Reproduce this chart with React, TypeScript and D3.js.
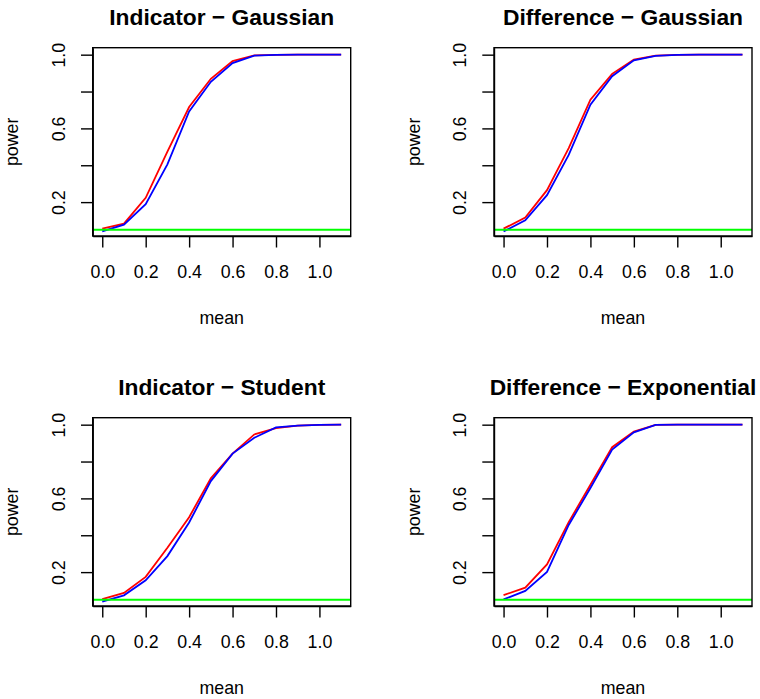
import React, {useRef, useEffect} from 'react';
import {select, scaleLinear, line, axisBottom, axisLeft, format, extent} from 'd3';

// shift values (x axis), shared by all four panels
const means = [0, 0.1, 0.2, 0.3, 0.4, 0.5, 0.6, 0.7, 0.8, 0.9, 1.0, 1.1];

const titles = [
    'Indicator − Gaussian',
    'Difference − Gaussian',
    'Indicator − Student',
    'Difference − Exponential',
];

// red curves
const redIndicatorGaussian = [0.056, 0.083, 0.223, 0.474, 0.716, 0.869, 0.965, 0.996, 0.999, 1.0, 1.0, 1.0];
const redDifferenceGaussian = [0.056, 0.116, 0.265, 0.493, 0.756, 0.896, 0.973, 0.995, 0.999, 1.0, 1.0, 1.0];
const redIndicatorStudent = [0.054, 0.087, 0.174, 0.332, 0.498, 0.709, 0.843, 0.947, 0.981, 0.995, 0.999, 1.0];
const redDifferenceExponential = [0.075, 0.116, 0.242, 0.471, 0.674, 0.878, 0.962, 0.999, 1.0, 1.0, 1.0, 1.0];

// blue curves
const blueIndicatorGaussian = [0.041, 0.078, 0.189, 0.405, 0.692, 0.853, 0.954, 0.995, 0.999, 1.0, 1.0, 1.0];
const blueDifferenceGaussian = [0.041, 0.101, 0.238, 0.456, 0.729, 0.883, 0.969, 0.994, 0.999, 1.0, 1.0, 1.0];
const blueIndicatorStudent = [0.040, 0.074, 0.156, 0.287, 0.469, 0.694, 0.843, 0.929, 0.985, 0.995, 0.999, 1.0];
const blueDifferenceExponential = [0.052, 0.098, 0.201, 0.456, 0.656, 0.865, 0.958, 0.999, 1.0, 1.0, 1.0, 1.0];

const redSeries = [redIndicatorGaussian, redDifferenceGaussian, redIndicatorStudent, redDifferenceExponential];
const blueSeries = [blueIndicatorGaussian, blueDifferenceGaussian, blueIndicatorStudent, blueDifferenceExponential];

const alphaLevel = 0.05; // green reference line

const xTicks = [0, 0.2, 0.4, 0.6, 0.8, 1.0];
const yTicks = [0.2, 0.4, 0.6, 0.8, 1.0];
const yLabelled = [0.2, 0.6, 1.0]; // R drops 0.4 and 0.8 (overlap)

const W = 760, H = 699;
const colX = [0, 401.3];
const rowY = [0, 370];
const box = {left: 92.7, right: 350.7, top: 47.7, bottom: 236};
const FONT = '"Liberation Sans", Arial, Helvetica, sans-serif';

// R style axis range: data range stretched by 4% each side
const pad4 = ([lo, hi]) => {
    const d = (hi - lo) * 0.04;
    return [lo - d, hi + d];
};

const App = () => {
    const svgRef = useRef();

    useEffect(() => {
        const svg = select(svgRef.current);
        svg.selectAll('*').remove();

        const xScale = scaleLinear()
            .domain(pad4(extent(means)))
            .range([box.left, box.right]);

        // ylim from the red (first plotted) series
        const yScale = scaleLinear()
            .domain(pad4(extent(redSeries.flat())))
            .range([box.bottom, box.top]);

        titles.forEach((title, i) => {
            const g = svg.append('g')
                .attr('transform', `translate(${colX[i % 2]},${rowY[Math.floor(i / 2)]})`)
                .style('font-family', FONT);

            const myLine = line()
                .x((v, k) => xScale(means[k]))
                .y(yScale);

            g.append('path')
                .datum(redSeries[i])
                .attr('d', myLine)
                .attr('fill', 'none')
                .attr('stroke', '#ff0000')
                .attr('stroke-width', 1.8);

            g.append('path')
                .datum(blueSeries[i])
                .attr('d', myLine)
                .attr('fill', 'none')
                .attr('stroke', '#0000ff')
                .attr('stroke-width', 1.8);

            g.append('line')
                .attr('x1', box.left).attr('x2', box.right)
                .attr('y1', yScale(alphaLevel)).attr('y2', yScale(alphaLevel))
                .attr('stroke', '#00ff00')
                .attr('stroke-width', 1.8);

            // x axis
            const xAxis = axisBottom(xScale)
                .tickValues(xTicks)
                .tickSize(11.5)
                .tickSizeOuter(0)
                .tickFormat(format('.1f'));
            const gx = g.append('g')
                .attr('transform', `translate(0,${box.bottom})`)
                .call(xAxis);
            gx.selectAll('text')
                .attr('y', 42.3).attr('dy', null)
                .attr('fill', '#000')
                .style('font-size', '17.8px')
                .style('font-family', FONT);

            // y axis, labels turned like R's las=0
            const yAxis = axisLeft(yScale)
                .tickValues(yTicks)
                .tickSize(11.7)
                .tickSizeOuter(0)
                .tickFormat(v => (yLabelled.includes(v) ? format('.1f')(v) : ''));
            const gy = g.append('g')
                .attr('transform', `translate(${box.left},0)`)
                .call(yAxis);
            gy.selectAll('text')
                .attr('x', null).attr('dy', null)
                .attr('transform', 'translate(-27.7,0) rotate(-90)')
                .attr('text-anchor', 'middle')
                .attr('fill', '#000')
                .style('font-size', '17.8px')
                .style('font-family', FONT);

            [gx, gy].forEach(a => {
                a.selectAll('line').attr('stroke', '#000').attr('stroke-width', 1.4);
                a.select('.domain').attr('stroke', '#000').attr('stroke-width', 1.4);
            });

            // plot box
            g.append('rect')
                .attr('x', box.left).attr('y', box.top)
                .attr('width', box.right - box.left)
                .attr('height', box.bottom - box.top)
                .attr('fill', 'none')
                .attr('stroke', '#000')
                .attr('stroke-width', 1.4);

            g.append('text')
                .attr('x', (box.left + box.right) / 2)
                .attr('y', 25.4)
                .attr('text-anchor', 'middle')
                .style('font-size', '22.8px')
                .style('font-weight', 'bold')
                .text(title);

            g.append('text')
                .attr('x', (box.left + box.right) / 2)
                .attr('y', 324)
                .attr('text-anchor', 'middle')
                .style('font-size', '17.8px')
                .text('mean');

            g.append('text')
                .attr('transform', `translate(${box.left - 74.4},${(box.top + box.bottom) / 2}) rotate(-90)`)
                .attr('text-anchor', 'middle')
                .style('font-size', '17.8px')
                .text('power');
        });
    }, []);

    return (
        <svg ref={svgRef} width={W} height={H}
             style={{position: 'absolute', left: 0, top: 0, background: '#fff'}}/>
    );
};

export default App;
